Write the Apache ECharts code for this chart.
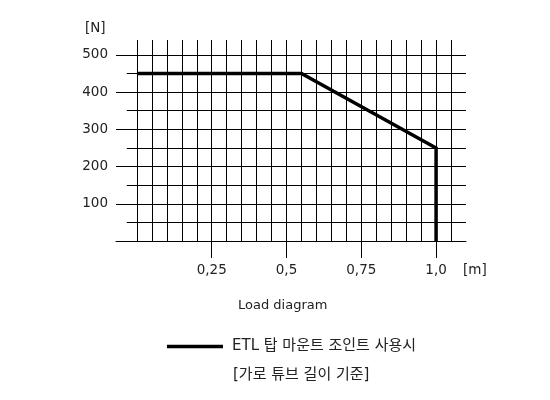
<!DOCTYPE html>
<html>
<head>
<meta charset="utf-8">
<script src="https://cdn.jsdelivr.net/npm/echarts@6/dist/echarts.min.js"></script>
<style>html,body{margin:0;padding:0;background:#fff}#c{width:550px;height:400px}</style>
</head>
<body>
<div id="c"></div>
<script>
// Data
var lengthM = [0, 0.55, 1.0, 1.0];
var loadN = [450, 450, 250, 0];
var seriesName = 'ETL 탑 마운트 조인트 사용시';
var subNote = '[가로 튜브 길이 기준]';
var xTickValues = [0.25, 0.5, 0.75, 1.0];
var xTickLabels = ['0,25', '0,5', '0,75', '1,0'];
var yTickValues = [100, 200, 300, 400, 500];
var gridX = [0, 0.05, 0.1, 0.15, 0.2, 0.25, 0.3, 0.35, 0.4, 0.45, 0.5, 0.55, 0.6, 0.65, 0.7, 0.75, 0.8, 0.85, 0.9, 0.95, 1.0, 1.05];
var gridYMajor = [100, 200, 300, 400, 500];
var gridYMinor = [50, 150, 250, 350, 450];

var X_MIN = -0.07, X_MAX = 1.1, X_MINOR_START = -0.034, Y_MAX = 540;
var FONT = '"DejaVu Sans", "Noto Sans CJK KR", sans-serif';
var TXT = '#222';

var gridLines = [];
gridX.forEach(function (x) { gridLines.push([{ coord: [x, 0] }, { coord: [x, Y_MAX] }]); });
gridYMajor.forEach(function (y) { gridLines.push([{ coord: [X_MIN, y] }, { coord: [X_MAX, y] }]); });
gridYMinor.forEach(function (y) { gridLines.push([{ coord: [X_MINOR_START, y] }, { coord: [X_MAX, y] }]); });

var chart = echarts.init(document.getElementById('c'), null, { renderer: 'canvas' });
chart.setOption({
  animation: false,
  backgroundColor: '#fff',
  textStyle: { fontFamily: FONT },
  grid: { left: 116, right: 84, top: 40, bottom: 159 },
  xAxis: {
    type: 'value', min: X_MIN, max: X_MAX,
    axisLine: { show: true, onZero: false, lineStyle: { color: '#000', width: 1 } },
    axisTick: { show: true, customValues: xTickValues, length: 17, lineStyle: { color: '#000', width: 1 } },
    axisLabel: {
      show: true, customValues: xTickValues, margin: 23,
      color: TXT, fontSize: 13.5, fontFamily: FONT,
      formatter: function (v) {
        for (var i = 0; i < xTickValues.length; i++) if (Math.abs(xTickValues[i] - v) < 1e-6) return xTickLabels[i];
        return '';
      }
    },
    splitLine: { show: false }
  },
  yAxis: {
    type: 'value', min: 0, max: Y_MAX,
    axisLine: { show: false },
    axisTick: { show: false },
    axisLabel: { show: true, customValues: yTickValues, margin: 8, color: TXT, fontSize: 13.5, fontFamily: FONT },
    splitLine: { show: false }
  },
  legend: {
    data: [seriesName],
    left: 167, top: 339, padding: 0,
    icon: 'rect', itemWidth: 56, itemHeight: 3.5,
    textStyle: { color: TXT, fontSize: 15, fontFamily: FONT, padding: [0, 0, 0, 4] }
  },
  graphic: [
    { type: 'text', left: 85, top: 22, style: { text: '[N]', fill: TXT, font: '13.5px ' + FONT } },
    { type: 'text', left: 463, top: 264, style: { text: '[m]', fill: TXT, font: '13.5px ' + FONT } },
    { type: 'text', left: 238, top: 299, style: { text: 'Load diagram', fill: TXT, font: '13px ' + FONT } },
    { type: 'text', left: 233, top: 368, style: { text: subNote, fill: TXT, font: '15px ' + FONT } }
  ],
  series: [
    {
      name: 'grid', type: 'line', data: [], z: 1, silent: true,
      markLine: {
        silent: true, symbol: 'none', animation: false,
        label: { show: false },
        lineStyle: { color: '#000', width: 1, type: 'solid' },
        emphasis: { disabled: true },
        data: gridLines
      }
    },
    {
      name: seriesName, type: 'line', z: 5,
      data: lengthM.map(function (x, i) { return [x, loadN[i]]; }),
      showSymbol: false, symbol: 'none',
      lineStyle: { color: '#000', width: 3.5, join: 'miter' },
      itemStyle: { color: '#000' }
    }
  ]
});
</script>
</body>
</html>
